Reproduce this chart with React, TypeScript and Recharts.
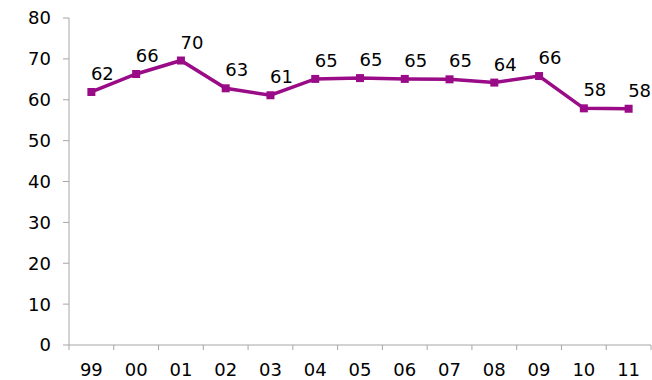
import { useLayoutEffect } from "react";
import { Line, LineChart, XAxis, YAxis, LabelList } from "recharts";

const years = ["99", "00", "01", "02", "03", "04", "05", "06", "07", "08", "09", "10", "11"];
const values = [61.9, 66.3, 69.6, 62.8, 61.1, 65.1, 65.3, 65.1, 65.0, 64.2, 65.8, 57.9, 57.8];
const yTicks = [0, 10, 20, 30, 40, 50, 60, 70, 80];

const data = years.map((year, i) => ({ year, value: values[i] }));

const WIDTH = 652;
const HEIGHT = 380;
const MARGIN = { top: 18, right: 1, bottom: 0, left: 0 };
const Y_AXIS_WIDTH = 69;
const X_AXIS_HEIGHT = 35;
const PURPLE = "#990b87";
const AXIS = "#a6a6a6";
const FONT = "'DejaVu Sans', Verdana, sans-serif";
const FONT_SIZE = 18;

const plotWidth = WIDTH - MARGIN.left - MARGIN.right - Y_AXIS_WIDTH;
const band = plotWidth / years.length;

// category label plus tick marks on the band boundaries
function BandTick(props: any) {
  const { x, y, payload, index } = props;
  const axisY = y - 8;
  const left = x - band / 2;
  return (
    <g>
      <line x1={left} x2={left} y1={axisY} y2={axisY + 5} stroke={AXIS} />
      {index === years.length - 1 && (
        <line x1={left + band} x2={left + band} y1={axisY} y2={axisY + 5} stroke={AXIS} />
      )}
      <text x={x} y={axisY + 31} textAnchor="middle" fontSize={FONT_SIZE} fontFamily={FONT} fill="#000">
        {payload.value}
      </text>
    </g>
  );
}

function SquareDot(props: any) {
  const { cx, cy } = props;
  if (cx == null || cy == null) return null;
  return <rect x={cx - 4} y={cy - 4} width={8} height={8} fill={PURPLE} />;
}

export default function App() {
  useLayoutEffect(() => {
    document.body.style.margin = "0";
  }, []);

  return (
    <LineChart width={WIDTH} height={HEIGHT} data={data} margin={MARGIN}>
      <XAxis
        dataKey="year"
        scale="band"
        height={X_AXIS_HEIGHT}
        axisLine={{ stroke: AXIS }}
        tickLine={false}
        interval={0}
        tick={<BandTick />}
      />
      <YAxis
        domain={[0, 80]}
        ticks={yTicks}
        width={Y_AXIS_WIDTH}
        axisLine={{ stroke: AXIS }}
        tickLine={{ stroke: AXIS }}
        tickSize={6}
        tickMargin={12}
        tick={{ fill: "#000", fontSize: FONT_SIZE, fontFamily: FONT }}
      />
      <Line
        type="linear"
        dataKey="value"
        stroke={PURPLE}
        strokeWidth={3.5}
        dot={<SquareDot />}
        activeDot={false}
        isAnimationActive={false}
      >
        <LabelList
          dataKey="value"
          position="top"
          offset={12}
          dx={11}
          fontSize={FONT_SIZE}
          fontFamily={FONT}
          fill="#000"
          formatter={(v: unknown) => String(Math.round(Number(v)))}
        />
      </Line>
    </LineChart>
  );
}
